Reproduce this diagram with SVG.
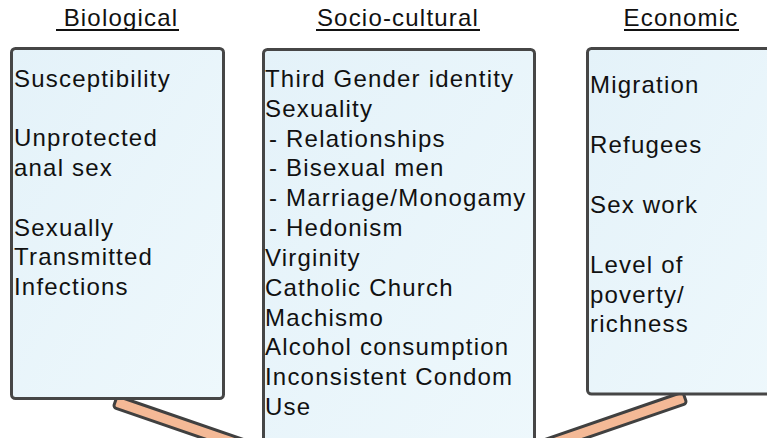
<svg xmlns="http://www.w3.org/2000/svg" width="767" height="438" viewBox="0 0 767 438">
  <defs>
    <linearGradient id="boxFill" x1="0" y1="0" x2="1" y2="1">
      <stop offset="0" stop-color="#E4F2F9"/>
      <stop offset="1" stop-color="#EEF8FC"/>
    </linearGradient>
    <style>
      .box { fill: url(#boxFill); stroke: #464646; stroke-width: 3; }
      .arm { fill: #F4B996; stroke: #404040; stroke-width: 3; }
      .head { font-family: "Liberation Sans", Arial, sans-serif; font-size: 24px; letter-spacing: 1.2px; fill: #111; text-anchor: middle; }
      .rule { stroke: #111; stroke-width: 2; }
      .item { font-family: "Liberation Sans", Arial, sans-serif; font-size: 24px; letter-spacing: 1.2px; fill: #111; }
    </style>
  </defs>

  <rect width="767" height="438" fill="#FFFFFF"/>

  <!-- support arms running down from the side boxes -->
  <g id="connectors">
    <rect class="arm" x="-4" y="-6" width="240" height="12" rx="3" transform="translate(119,403) rotate(19)"/>
    <rect class="arm" x="-4" y="-6" width="240" height="12" rx="3" transform="translate(681,399) rotate(161)"/>
  </g>

  <!-- headings -->
  <g id="headings">
    <text class="head" x="121" y="26">Biological</text>
    <line class="rule" x1="56" y1="30" x2="179" y2="30"/>
    <text class="head" x="398" y="26">Socio-cultural</text>
    <line class="rule" x1="316" y1="30" x2="480" y2="30"/>
    <text class="head" x="681" y="26">Economic</text>
    <line class="rule" x1="624" y1="30" x2="739" y2="30"/>
  </g>

  <g id="biological">
    <rect class="box" x="11.5" y="48.5" width="212" height="350" rx="4"/>
    <text class="item" x="14">
      <tspan x="14" y="87">Susceptibility</tspan>
      <tspan x="14" y="146">Unprotected</tspan>
      <tspan x="14" y="176">anal sex</tspan>
      <tspan x="14" y="236">Sexually</tspan>
      <tspan x="14" y="265">Transmitted</tspan>
      <tspan x="14" y="295">Infections</tspan>
    </text>
  </g>

  <g id="socio-cultural">
    <rect class="box" x="263.5" y="49.5" width="271" height="420" rx="4"/>
    <text class="item" x="265">
      <tspan x="265" y="87">Third Gender identity</tspan>
      <tspan x="265" y="117">Sexuality</tspan>
      <tspan x="269" y="146.5">- Relationships</tspan>
      <tspan x="269" y="176">- Bisexual men</tspan>
      <tspan x="269" y="206">- Marriage/Monogamy</tspan>
      <tspan x="269" y="236">- Hedonism</tspan>
      <tspan x="265" y="266">Virginity</tspan>
      <tspan x="265" y="296">Catholic Church</tspan>
      <tspan x="265" y="325.5">Machismo</tspan>
      <tspan x="265" y="355">Alcohol consumption</tspan>
      <tspan x="265" y="385">Inconsistent Condom</tspan>
      <tspan x="265" y="415">Use</tspan>
    </text>
  </g>

  <g id="economic">
    <rect class="box" x="587.5" y="48.5" width="200" height="345.5" rx="4"/>
    <text class="item" x="590">
      <tspan x="590" y="93">Migration</tspan>
      <tspan x="590" y="153">Refugees</tspan>
      <tspan x="590" y="213">Sex work</tspan>
      <tspan x="590" y="273">Level of</tspan>
      <tspan x="590" y="302.5">poverty/</tspan>
      <tspan x="590" y="332">richness</tspan>
    </text>
  </g>
</svg>
